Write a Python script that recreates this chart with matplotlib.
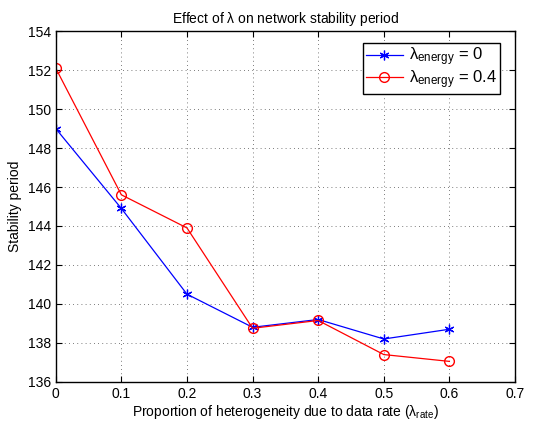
import matplotlib
matplotlib.use("Agg")
import matplotlib.pyplot as plt

plt.rcParams['font.family'] = ['Liberation Sans', 'DejaVu Sans']
plt.rcParams['mathtext.fontset'] = 'custom'
plt.rcParams['mathtext.rm'] = 'Liberation Sans'
plt.rcParams['mathtext.it'] = 'Liberation Sans'

x = [0, 0.1, 0.2, 0.3, 0.4, 0.5, 0.6]
energy0 = [149.0, 144.9, 140.5, 138.8, 139.2, 138.2, 138.7]
energy04 = [152.1, 145.6, 143.9, 138.75, 139.15, 137.4, 137.05]
xticks = [0, 0.1, 0.2, 0.3, 0.4, 0.5, 0.6, 0.7]
yticks = [136, 138, 140, 142, 144, 146, 148, 150, 152, 154]

fig = plt.figure(figsize=(5.52, 4.21), dpi=100)
ax = fig.add_axes([0.101, 0.093, 0.832, 0.833])

ax.plot(x, energy0, color='blue', marker=(6, 2, 0), markersize=7, lw=0.9,
        markeredgewidth=0.9,
        label=r'$\mathrm{\lambda}_{\mathrm{energy}}$ = 0')
ax.plot(x, energy04, color='red', marker='o', markersize=7, lw=0.9,
        markerfacecolor='none', label=r'$\mathrm{\lambda}_{\mathrm{energy}}$ = 0.4')

ax.set_xlim(0, 0.7)
ax.set_ylim(136, 154)
ax.set_xticks(xticks)
ax.set_xticklabels(['0', '0.1', '0.2', '0.3', '0.4', '0.5', '0.6', '0.7'])
ax.set_yticks(yticks)
ax.tick_params(direction='in', top=True, right=True, labelsize=10, length=4, width=0.8)
ax.grid(True, linestyle=(0, (1, 4)), color='#505050', lw=0.6)
for s in ax.spines.values():
    s.set_linewidth(1.0)

ax.set_title(r'Effect of $\mathrm{\lambda}$ on network stability period', fontsize=10)
ax.set_xlabel(r'Proportion of heterogeneity due to data rate ($\mathrm{\lambda}_{\mathrm{rate}}$)', fontsize=10, labelpad=2)
ax.set_ylabel('Stability period', fontsize=10)

leg = ax.legend(loc='upper right', fontsize=12, fancybox=False, framealpha=1,
                edgecolor='black', handlelength=2.2, borderpad=0.15,
                labelspacing=0.02, handletextpad=0.4, bbox_to_anchor=(0.985, 0.99))
leg.get_frame().set_linewidth(1.0)

fig.savefig('out.png', dpi=100)
